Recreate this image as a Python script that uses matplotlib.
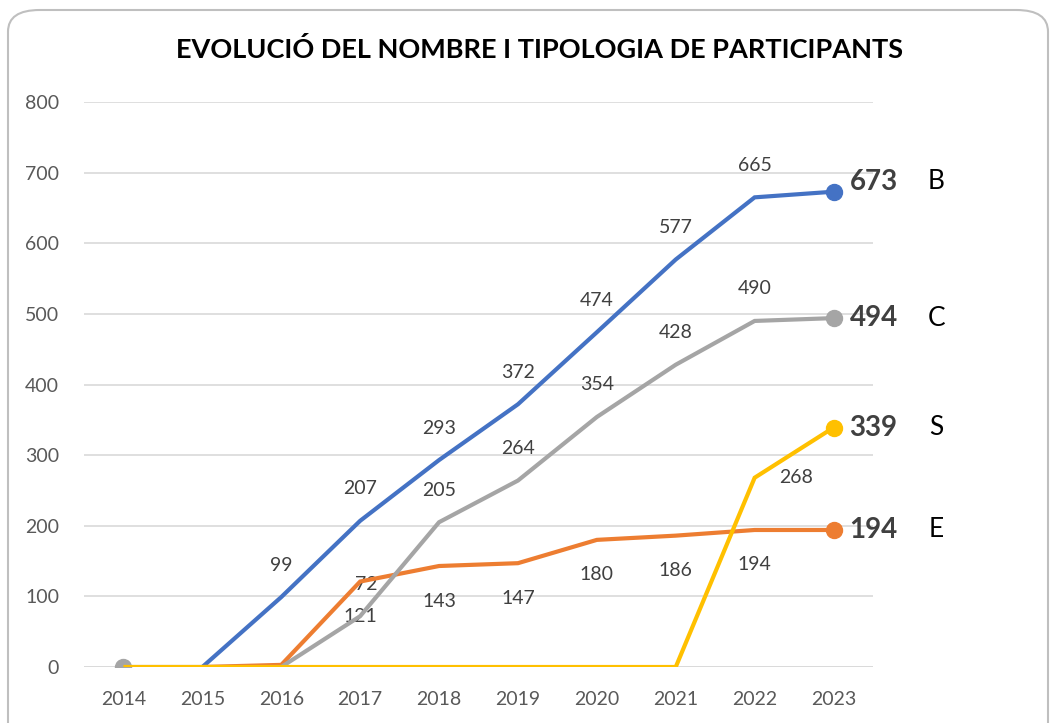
import matplotlib
matplotlib.use("Agg")
import matplotlib.pyplot as plt
from matplotlib.patches import FancyBboxPatch
import numpy as np

plt.rcParams['font.family'] = ['Lato', 'DejaVu Sans']

years = [2014, 2015, 2016, 2017, 2018, 2019, 2020, 2021, 2022, 2023]
B = [None, 0, 99, 207, 293, 372, 474, 577, 665, 673]
C = [0, 0, 0, 72, 205, 264, 354, 428, 490, 494]
S = [0, 0, 0, 0, 0, 0, 0, 0, 268, 339]
E = [None, 0, 3, 121, 143, 147, 180, 186, 194, 194]
series_names = ['B', 'C', 'S', 'E']
title = "EVOLUCIÓ DEL NOMBRE I TIPOLOGIA DE PARTICIPANTS"

colors = {'B': '#4472C4', 'C': '#A5A5A5', 'S': '#FFC000', 'E': '#ED7D31'}
zorders = {'B': 3, 'E': 4, 'C': 5, 'S': 6}
data = {'B': B, 'C': C, 'S': S, 'E': E}

fig = plt.figure(figsize=(10.56, 7.23), dpi=100)
border = FancyBboxPatch((8/1056, -0.05), (1048-8)/1056, 1.05 - 10/723,
                        boxstyle="round,pad=0,rounding_size=0.03",
                        transform=fig.transFigure, facecolor='none',
                        edgecolor='#BFBFBF', linewidth=1.5, zorder=-1)
fig.patches.append(border)

ax = fig.add_axes([84/1056, 1 - 667/723, (873 - 84)/1056, (667 - 102)/723])
ax.set_facecolor('none')
x = np.arange(len(years))

for name in series_names:
    vals = data[name]
    xs = [xi for xi, v in zip(x, vals) if v is not None]
    ys = [v for v in vals if v is not None]
    ax.plot(xs, ys, color=colors[name], lw=3.0, zorder=zorders[name],
            solid_joinstyle='miter', solid_capstyle='butt')
    ax.plot(xs[-1], ys[-1], 'o', color=colors[name], ms=11.5, zorder=zorders[name])

# gray start marker
ax.plot(x[0], C[0], 'o', color=colors['C'], ms=11.5, zorder=2)

lab_color = '#404040'
fs = 14
for xi, v in zip(x, B):
    if v is not None and v > 0 and xi < len(x) - 1:
        ax.annotate(str(v), (xi, v), xytext=(0, 32), textcoords='offset pixels',
                    ha='center', va='center', fontsize=fs, color=lab_color)
for xi, v in zip(x, C):
    if v > 0 and xi < len(x) - 1:
        dx = 6 if xi == 3 else 0
        ax.annotate(str(v), (xi, v), xytext=(dx, 32), textcoords='offset pixels',
                    ha='center', va='center', fontsize=fs, color=lab_color)
for xi, v in zip(x, E):
    if v is not None and v > 5 and xi < len(x) - 1:
        ax.annotate(str(v), (xi, v), xytext=(0, -35), textcoords='offset pixels',
                    ha='center', va='center', fontsize=fs, color=lab_color)
for xi, v in zip(x, S):
    if v > 0 and xi < len(x) - 1:
        ax.annotate(str(v), (xi, v), xytext=(41, 0), textcoords='offset pixels',
                    ha='center', va='center', fontsize=fs, color=lab_color)

for name in series_names:
    vals = data[name]
    v = vals[-1]
    dy = 10 if name == 'B' else 0
    ax.annotate(str(v), (x[-1], v), xytext=(16, dy),
                textcoords='offset pixels', ha='left', va='center',
                fontsize=20, fontweight='bold', color=lab_color, annotation_clip=False)
    ax.annotate(name, (x[-1], v), xytext=(103, dy),
                textcoords='offset pixels', ha='center', va='center',
                fontsize=19, color='black', annotation_clip=False)

ax.set_xlim(-0.5, len(x) - 0.5)
ax.set_ylim(0, 800)
ax.set_yticks(range(0, 801, 100))
ax.set_xticks(x)
ax.set_xticklabels([str(y) for y in years])
ax.tick_params(axis='both', length=0, labelsize=14, colors='#595959')
ax.tick_params(axis='y', pad=18)
ax.tick_params(axis='x', pad=17)
ax.grid(axis='y', color='#D9D9D9', lw=1.2, zorder=0)
ax.set_axisbelow(True)
for s in ax.spines.values():
    s.set_visible(False)
ax.axhline(0, color='#D9D9D9', lw=1.2, zorder=1)

fig.text(540/1056, 1 - 50/723, title, ha='center', va='center',
         fontsize=19.5, fontweight='bold', color='black')

fig.savefig('out.png', dpi=100)
